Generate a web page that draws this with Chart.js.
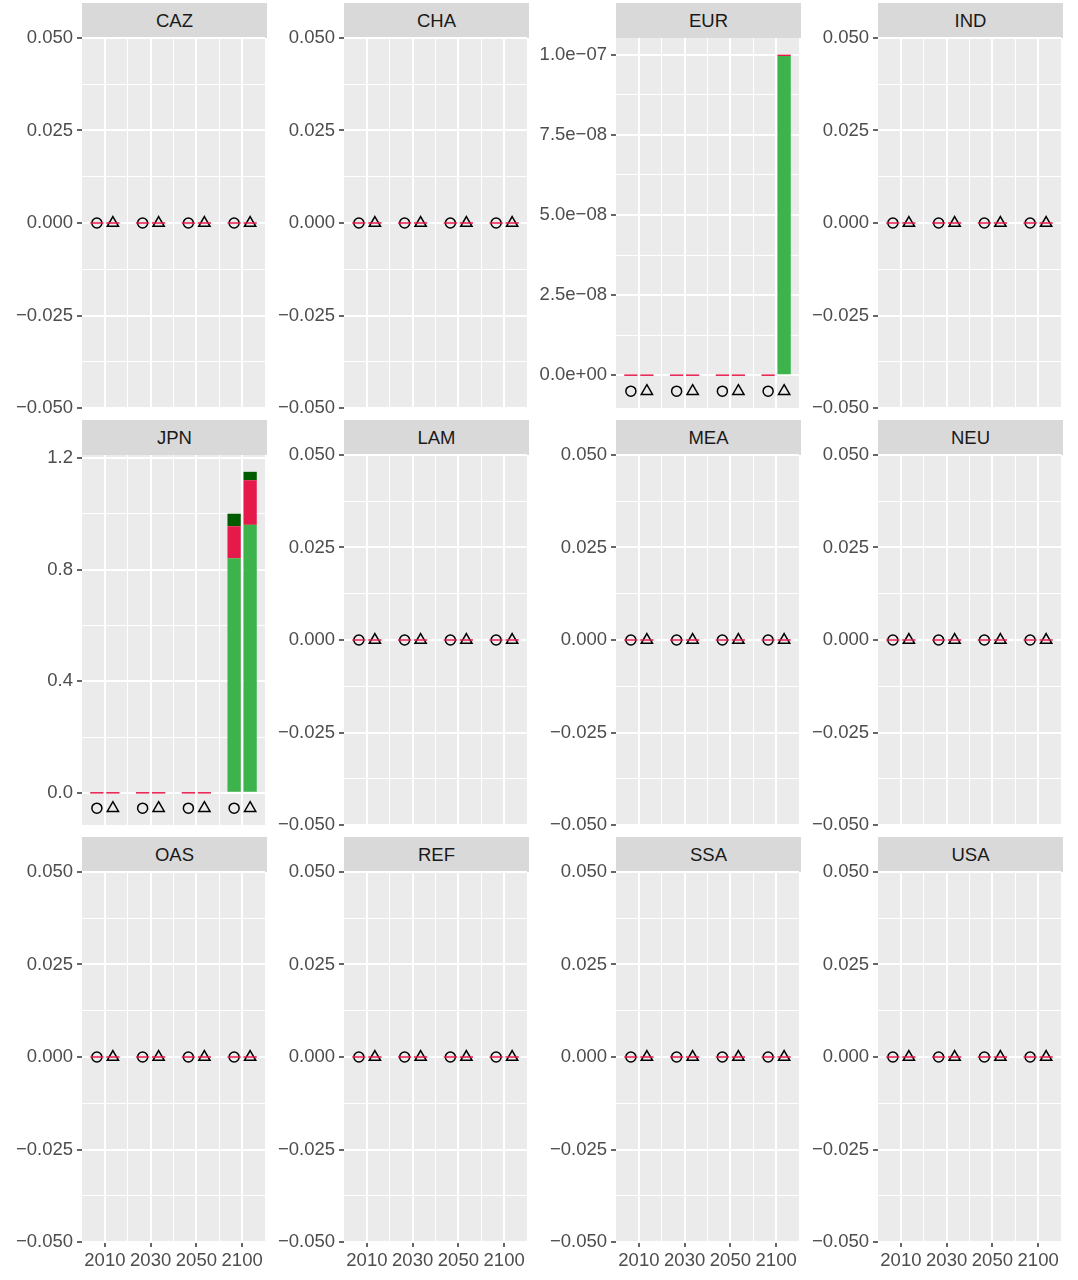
<!DOCTYPE html>
<html>
<head>
<meta charset="utf-8">
<script src="https://cdn.jsdelivr.net/npm/chart.js@4/dist/chart.umd.min.js"></script>
<style>
  body { margin: 0; background: #fff; }
  #wrap { position: relative; width: 1078px; height: 1280px; }
  canvas { position: absolute; }
  .strip {
    position: absolute; background: #d9d9d9; color: #1a1a1a;
    font: 18.5px "Liberation Sans", Arial, sans-serif;
    display: flex; align-items: center; justify-content: center;
  }
</style>
</head>
<body>
<div id="wrap"></div>
<script>
// Régions (facettes) et années
const regions = ['CAZ', 'CHA', 'EUR', 'IND', 'JPN', 'LAM', 'MEA', 'NEU', 'OAS', 'REF', 'SSA', 'USA'];
const years = ['2010', '2030', '2050', '2100'];

// Valeurs par région, [2010, 2030, 2050, 2100] ; "Circle" = barre de gauche, "Triangle" = barre de droite
const lightGreenCircle = [
  [0, 0, 0, 0], [0, 0, 0, 0], [0, 0, 0, 0], [0, 0, 0, 0],
  [0, 0, 0, 0.84], [0, 0, 0, 0], [0, 0, 0, 0], [0, 0, 0, 0],
  [0, 0, 0, 0], [0, 0, 0, 0], [0, 0, 0, 0], [0, 0, 0, 0]
];
const lightGreenTriangle = [
  [0, 0, 0, 0], [0, 0, 0, 0], [0, 0, 0, 9.96e-8], [0, 0, 0, 0],
  [0, 0, 0, 0.96], [0, 0, 0, 0], [0, 0, 0, 0], [0, 0, 0, 0],
  [0, 0, 0, 0], [0, 0, 0, 0], [0, 0, 0, 0], [0, 0, 0, 0]
];
const redCircle = [
  [0, 0, 0, 0], [0, 0, 0, 0], [0, 0, 0, 0], [0, 0, 0, 0],
  [0, 0, 0, 0.115], [0, 0, 0, 0], [0, 0, 0, 0], [0, 0, 0, 0],
  [0, 0, 0, 0], [0, 0, 0, 0], [0, 0, 0, 0], [0, 0, 0, 0]
];
const redTriangle = [
  [0, 0, 0, 0], [0, 0, 0, 0], [0, 0, 0, 4e-10], [0, 0, 0, 0],
  [0, 0, 0, 0.16], [0, 0, 0, 0], [0, 0, 0, 0], [0, 0, 0, 0],
  [0, 0, 0, 0], [0, 0, 0, 0], [0, 0, 0, 0], [0, 0, 0, 0]
];
const darkGreenCircle = [
  [0, 0, 0, 0], [0, 0, 0, 0], [0, 0, 0, 0], [0, 0, 0, 0],
  [0, 0, 0, 0.045], [0, 0, 0, 0], [0, 0, 0, 0], [0, 0, 0, 0],
  [0, 0, 0, 0], [0, 0, 0, 0], [0, 0, 0, 0], [0, 0, 0, 0]
];
const darkGreenTriangle = [
  [0, 0, 0, 0], [0, 0, 0, 0], [0, 0, 0, 0], [0, 0, 0, 0],
  [0, 0, 0, 0.03], [0, 0, 0, 0], [0, 0, 0, 0], [0, 0, 0, 0],
  [0, 0, 0, 0], [0, 0, 0, 0], [0, 0, 0, 0], [0, 0, 0, 0]
];
// Position verticale des marqueurs (cercle / triangle) sous les barres
const markerY = [0, 0, -5e-9, 0, -0.055, 0, 0, 0, 0, 0, 0, 0];
// Pas des graduations principales de l'axe y, et format des étiquettes
const yMajorStep = [0.025, 0.025, 2.5e-8, 0.025, 0.4, 0.025, 0.025, 0.025, 0.025, 0.025, 0.025, 0.025];
const yLabelFormat = ['fix3', 'fix3', 'sci', 'fix3', 'fix1', 'fix3', 'fix3', 'fix3', 'fix3', 'fix3', 'fix3', 'fix3'];

const FONT = '"Liberation Sans", Arial, sans-serif';
const FONT_SIZE = 18.5;
const COLORS = { light: '#3cb44b', red: '#e6194b', dark: '#005a00' };
const DODGE = 0.175;

// Géométrie de la grille de facettes
const panelLefts = [82, 344, 616, 878];
const panelTops = [38, 455, 872];
const PANEL_W = 185, PANEL_H = 370, STRIP_H = 35;
const PAD = 20, X_AXIS_H = 32;

const wrap = document.getElementById('wrap');

function minus(s) { return s.replace('-', '\u2212'); }

function formatLabel(v, fmt) {
  if (Math.abs(v) < 1e-15) v = 0;
  if (fmt === 'fix3') return minus(v.toFixed(3));
  if (fmt === 'fix1') return minus(v.toFixed(1));
  // notation scientifique façon R : 1.0e-07
  if (v === 0) return '0.0e+00';
  const exp = Math.floor(Math.log10(Math.abs(v)));
  const mant = v / Math.pow(10, exp);
  const sign = exp < 0 ? '\u2212' : '+';
  return minus(mant.toFixed(1)) + 'e' + sign + String(Math.abs(exp)).padStart(2, '0');
}

function isMajor(v, step) {
  const r = v / step;
  return Math.abs(r - Math.round(r)) < 1e-6;
}

// Plugin : fond gris du panneau
const panelBg = {
  id: 'panelBg',
  beforeDraw(chart) {
    const { ctx, chartArea: a } = chart;
    ctx.save();
    ctx.fillStyle = '#ebebeb';
    ctx.fillRect(a.left, a.top, a.right - a.left, a.bottom - a.top);
    ctx.restore();
  }
};

function yRange(r) {
  let hi = Math.max(0, markerY[r]);
  let lo = Math.min(0, markerY[r]);
  for (let i = 0; i < years.length; i++) {
    hi = Math.max(hi, lightGreenCircle[r][i] + redCircle[r][i] + darkGreenCircle[r][i]);
    hi = Math.max(hi, lightGreenTriangle[r][i] + redTriangle[r][i] + darkGreenTriangle[r][i]);
  }
  if (hi === lo) return [-0.05, 0.05];
  const pad = (hi - lo) * 0.05;
  return [lo - pad, hi + pad];
}

function barSet(values, r, offset, color, minLen) {
  return {
    type: 'bar',
    stack: 'a',
    data: years.map((_, i) => ({ x: i + 1 + offset, y: values[r][i] })),
    backgroundColor: color,
    borderWidth: 0,
    minBarLength: minLen,
    barPercentage: 0.83,
    categoryPercentage: 1
  };
}

function pointSet(r, offset, style, radius) {
  return {
    type: 'scatter',
    data: years.map((_, i) => ({ x: i + 1 + offset, y: markerY[r] })),
    pointStyle: style,
    pointRadius: radius,
    pointHoverRadius: radius,
    pointBorderColor: '#000',
    pointBackgroundColor: 'rgba(0,0,0,0)',
    pointBorderWidth: 1.5
  };
}

regions.forEach((name, r) => {
  const row = Math.floor(r / 4), col = r % 4;
  const L = panelLefts[col], T = panelTops[row];
  const bottomRow = row === 2;

  // Bandeau de titre de la facette
  const strip = document.createElement('div');
  strip.className = 'strip';
  strip.style.left = L + 'px';
  strip.style.top = (T - STRIP_H) + 'px';
  strip.style.width = PANEL_W + 'px';
  strip.style.height = STRIP_H + 'px';
  strip.textContent = name;
  wrap.appendChild(strip);

  const canvas = document.createElement('canvas');
  const cw = 80 + PANEL_W + 6;
  const ch = PAD + PANEL_H + (bottomRow ? X_AXIS_H : PAD);
  canvas.width = cw; canvas.height = ch;
  canvas.style.left = (L - 80) + 'px';
  canvas.style.top = (T - PAD) + 'px';
  canvas.style.width = cw + 'px';
  canvas.style.height = ch + 'px';
  wrap.appendChild(canvas);

  const [yMin, yMax] = yRange(r);
  const major = yMajorStep[r];
  const minor = major / 2;

  new Chart(canvas, {
    data: {
      datasets: [
        barSet(lightGreenCircle, r, -DODGE, COLORS.light, 0),
        barSet(lightGreenTriangle, r, DODGE, COLORS.light, 0),
        barSet(redCircle, r, -DODGE, COLORS.red, 1.5),
        barSet(redTriangle, r, DODGE, COLORS.red, 1.5),
        barSet(darkGreenCircle, r, -DODGE, COLORS.dark, 0),
        barSet(darkGreenTriangle, r, DODGE, COLORS.dark, 0),
        pointSet(r, -DODGE, 'circle', 5),
        pointSet(r, DODGE, 'triangle', 6.5)
      ]
    },
    options: {
      responsive: false,
      animation: false,
      devicePixelRatio: 1,
      layout: { padding: { left: 0, right: 6, top: PAD, bottom: bottomRow ? 0 : PAD } },
      plugins: { legend: { display: false }, tooltip: { enabled: false } },
      scales: {
        x: {
          type: 'linear',
          min: 0.5,
          max: 4.5,
          offset: false,
          bounds: 'data',
          afterBuildTicks: s => {
            s.ticks = [1, 1.5, 2, 2.5, 3, 3.5, 4].map(v => ({ value: v }));
          },
          afterFit: s => { s.height = bottomRow ? X_AXIS_H : 0; },
          border: { display: false },
          grid: {
            offset: false,
            color: '#ffffff',
            lineWidth: c => (c.tick && isMajor(c.tick.value, 1)) ? 2 : 1,
            drawTicks: bottomRow,
            tickLength: 5,
            tickWidth: 1.5,
            tickColor: c => (c.tick && isMajor(c.tick.value, 1)) ? '#333333' : 'rgba(0,0,0,0)'
          },
          ticks: {
            display: bottomRow,
            autoSkip: false,
            maxRotation: 0,
            padding: 3,
            color: '#4d4d4d',
            font: { family: FONT, size: FONT_SIZE },
            callback: v => isMajor(v, 1) ? years[Math.round(v) - 1] : ''
          }
        },
        y: {
          type: 'linear',
          stacked: true,
          min: yMin,
          max: yMax,
          bounds: 'data',
          afterBuildTicks: s => {
            const ticks = [];
            const start = Math.ceil(yMin / minor - 1e-9);
            const end = Math.floor(yMax / minor + 1e-9);
            for (let k = start; k <= end; k++) ticks.push({ value: k * minor });
            s.ticks = ticks;
          },
          afterFit: s => { s.width = 80; },
          border: { display: false },
          grid: {
            color: '#ffffff',
            lineWidth: c => (c.tick && isMajor(c.tick.value, major)) ? 2 : 1,
            tickLength: 5,
            tickWidth: 1.5,
            tickColor: c => (c.tick && isMajor(c.tick.value, major)) ? '#333333' : 'rgba(0,0,0,0)'
          },
          ticks: {
            autoSkip: false,
            padding: 4,
            color: '#4d4d4d',
            font: { family: FONT, size: FONT_SIZE },
            callback: v => isMajor(v, major) ? formatLabel(v, yLabelFormat[r]) : ''
          }
        }
      }
    },
    plugins: [panelBg]
  });
});
</script>
</body>
</html>
